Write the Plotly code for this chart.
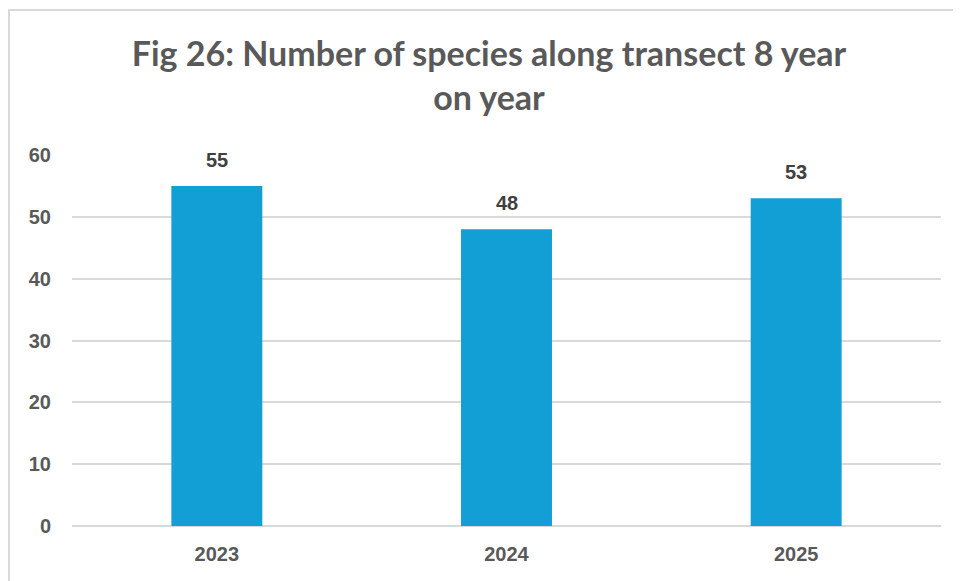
import plotly.graph_objects as go

years = ["2023", "2024", "2025"]
species = [55, 48, 53]
title_text = "Fig 26: Number of species along transect 8 year<br>on year"

OFF = 8  # page body margin
L, R, T, B = 72 - OFF, 20, 155 - OFF, 55
W, H = 961 - OFF, 581 - OFF
pw, ph = W - L - R, H - T - B

def px_x(x):
    return (x - OFF - L) / pw

def px_y(y):
    return (H - B - (y - OFF)) / ph

fig = go.Figure(go.Bar(
    x=years, y=species,
    marker=dict(color="#119FD6", line=dict(width=0)),
    cliponaxis=False,
))

for i, v in enumerate(species):
    fig.add_annotation(x=i, y=v, text="<b>%d</b>" % v, showarrow=False,
                       yanchor="middle", yshift=26,
                       font=dict(family="Liberation Sans", size=20, color="#404040"))

fig.update_layout(
    width=W, height=H,
    margin=dict(l=L, r=R, t=T, b=B),
    paper_bgcolor="white", plot_bgcolor="white",
    bargap=0.686,
    showlegend=False,
    title=dict(text="<b>" + title_text + "</b>", x=(489 - OFF) / W, xanchor="center",
               y=1 - (66 - OFF) / H, yanchor="middle",
               font=dict(family="Lato", size=34, color="#595959")),
    xaxis=dict(type="category", range=[-0.5, len(years) - 0.5], autorange=False,
               showgrid=False, showline=False, ticks="", ticklabelstandoff=14,
               tickfont=dict(family="Liberation Sans", size=20, color="#595959"),
               tickprefix="<b>", ticksuffix="</b>"),
    yaxis=dict(range=[0, 60], dtick=10, showgrid=True, gridcolor="#d9d9d9", gridwidth=1.5,
               zeroline=True, zerolinecolor="#d9d9d9", zerolinewidth=1.5,
               showline=False, ticks="", ticklabelstandoff=20,
               tickfont=dict(family="Liberation Sans", size=20, color="#595959"),
               tickprefix="<b>", ticksuffix="</b>"),
    shapes=[dict(type="rect", xref="paper", yref="paper",
                 x0=px_x(9), x1=px_x(958), y0=px_y(620), y1=px_y(10),
                 line=dict(color="#d9d9d9", width=2), layer="below")],
)

fig.write_html("out.html")
